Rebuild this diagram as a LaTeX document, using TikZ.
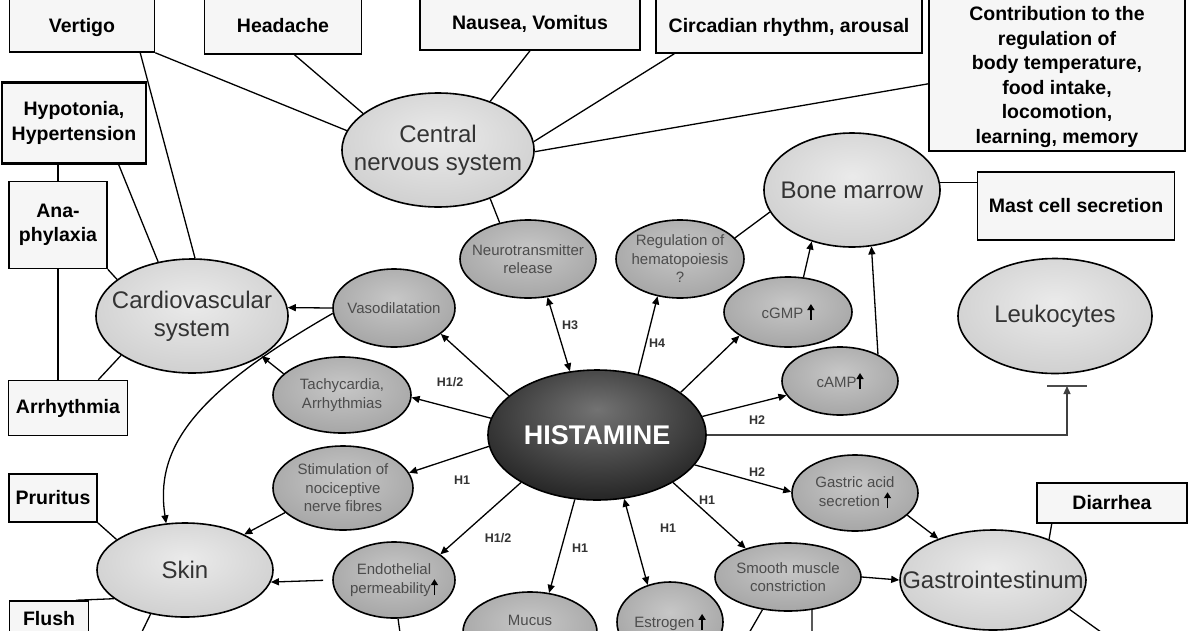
\documentclass[tikz,border=0pt]{standalone}
\usepackage{fontspec}
\setmainfont{Liberation Sans}
\usepackage{tikz}
\usetikzlibrary{arrows.meta,positioning,shapes.geometric}
\pgfdeclareradialshading{lightball}{\pgfpoint{0bp}{6bp}}{rgb(0bp)=(0.92,0.92,0.92);rgb(50bp)=(0.74,0.74,0.74);rgb(80bp)=(0.74,0.74,0.74)}
\pgfdeclareradialshading{midball}{\pgfpoint{0bp}{6bp}}{rgb(0bp)=(0.78,0.78,0.78);rgb(50bp)=(0.56,0.56,0.56);rgb(80bp)=(0.56,0.56,0.56)}
\pgfdeclareradialshading{darkball}{\pgfpoint{0bp}{10bp}}{rgb(0bp)=(0.45,0.45,0.45);rgb(42bp)=(0.04,0.04,0.04);rgb(80bp)=(0,0,0)}
\tikzset{
box/.style={draw,line width=1.5pt,fill=gray!7,align=center,inner sep=0pt,font=\bfseries\fontsize{19.5}{24.5}\selectfont},
topbox/.style={box,text height=45pt,text depth=5pt},
bigell/.style={ellipse,draw,line width=1.6pt,shade,shading=lightball,inner sep=0pt,align=center,text=black!80,font=\fontsize{24}{28}\selectfont},
midell/.style={ellipse,draw,line width=1.6pt,shade,shading=midball,inner sep=0pt,align=center,text=black!70,font=\fontsize{15}{18.5}\selectfont},
link/.style={line width=1.3pt},
arrow/.style={-{Triangle[length=8pt,width=7pt]},line width=1.3pt},
dblarrow/.style={{Triangle[length=8pt,width=7pt]}-{Triangle[length=8pt,width=7pt]},line width=1.3pt},
hlabel/.style={font=\bfseries\fontsize{12.5}{12.5}\selectfont,text=black!80}
}
\newcommand{\ml}[1]{\makebox[0pt]{#1}}
\newcommand{\upmark}{\tikz[baseline=-1pt,x=1pt,y=1pt]\draw[black,line width=1.8pt,-{Triangle[length=6pt,width=7pt]}] (0,-3)--(0,13);}

\begin{document}
\begin{tikzpicture}[x=1pt,y=-1pt]
\useasboundingbox (0,0) rectangle (1200,630);
\fill[white] (0,0) rectangle (1200,630);
\clip (0,0) rectangle (1200,630);

% symptom boxes
\node[topbox,minimum width=145pt,minimum height=80pt] (vertigo) at (82,12) {Vertigo};
\node[topbox,minimum width=157pt,minimum height=84pt] (headache) at (283,12) {Headache};
\node[topbox,minimum width=220pt,minimum height=82pt] (nausea) at (530,9) {Nausea, Vomitus};
\node[topbox,minimum width=266pt,minimum height=82pt] (circadian) at (789,12) {Circadian rhythm, arousal};
\node[box,minimum width=256pt,minimum height=166pt] (contrib) at (1057,68) {\rule{0pt}{32pt}Contribution to the\\regulation of\\body temperature,\\food intake,\\locomotion,\\learning, memory};
\node[box,line width=2.4pt,minimum width=144pt,minimum height=81pt] (hypotonia) at (74,123) {Hypotonia,\\Hypertension};
\node[box,minimum width=98pt,minimum height=87pt] (ana) at (58,225) {Ana-\\phylaxia};
\node[box,minimum width=119pt,minimum height=55pt] (arrhythmia) at (68,408) {Arrhythmia};
\node[box,minimum width=197pt,minimum height=68pt] (mastcell) at (1076,206) {Mast cell secretion};
\node[box,minimum width=88pt,minimum height=48pt] (pruritus) at (53,498) {Pruritus};
\node[box,minimum width=79pt,minimum height=36pt] (flush) at (49,619) {Flush};
\node[box,minimum width=150pt,minimum height=40pt] (diarrhea) at (1112,503) {Diarrhea};

% organs
\node[bigell,minimum width=192pt,minimum height=114pt] (cns) at (438,150) {\ml{Central}\\\ml{nervous system}};
\node[bigell,minimum width=176pt,minimum height=114pt] (bonemarrow) at (852,190) {\ml{Bone marrow}};
\node[bigell,minimum width=192pt,minimum height=114pt] (cardio) at (192,316) {\ml{Cardiovascular}\\\ml{system}};
\node[bigell,minimum width=194pt,minimum height=115pt] (leuko) at (1055,316) {\ml{Leukocytes}};
\node[bigell,minimum width=176pt,minimum height=94pt] (skin) at (185,570) {\ml{Skin}};
\node[bigell,minimum width=186pt,minimum height=100pt] (gi) at (993,580) {\ml{Gastrointestinum}};

% effects
\node[midell,minimum width=136pt,minimum height=78pt] (neuro) at (528,259) {\ml{Neurotransmitter}\\\ml{release}};
\node[midell,minimum width=128pt,minimum height=78pt] (regul) at (680,259) {\ml{Regulation of}\\\ml{hematopoiesis}\\\ml{?}};
\node[midell,minimum width=128pt,minimum height=70pt] (cgmp) at (788,312) {\ml{cGMP \upmark}};
\node[midell,minimum width=116pt,minimum height=68pt] (camp) at (840,381) {\ml{cAMP\upmark}};
\node[midell,minimum width=122pt,minimum height=78pt] (vasodil) at (394,308) {\ml{Vasodilatation}};
\node[midell,minimum width=138pt,minimum height=76pt] (tachy) at (342,395) {\ml{Tachycardia,}\\\ml{Arrhythmias}};
\node[midell,minimum width=140pt,minimum height=84pt] (stim) at (343,488) {\ml{Stimulation of}\\\ml{nociceptive}\\\ml{nerve fibres}};
\node[midell,minimum width=122pt,minimum height=76pt] (endoth) at (394,580) {\ml{Endothelial}\\\ml{permeability\upmark}};
\node[midell,minimum width=134pt,minimum height=80pt,label={[yshift=12pt,text=black!70,font=\fontsize{15}{18.5}\selectfont]center:Mucus}] (mucus) at (530,632) {};
\node[midell,minimum width=106pt,minimum height=80pt] (estrogen) at (670,622) {\ml{Estrogen \upmark}};
\node[midell,minimum width=146pt,minimum height=68pt] (smooth) at (788,577) {\ml{Smooth muscle}\\\ml{constriction}};
\node[midell,minimum width=126pt,minimum height=76pt] (gastric) at (855,493) {\ml{Gastric acid}\\\ml{secretion \upmark}};

\node[ellipse,draw,line width=1.6pt,shade,shading=darkball,inner sep=0pt,minimum width=218pt,minimum height=130pt,text=white,font=\bfseries\fontsize{27}{27}\selectfont] (histamine) at (597,435) {\ml{HISTAMINE}};

% receptor labels
\node[hlabel] (lh3) at (570,325) {H3};
\node[hlabel] (lh4) at (657,343) {H4};
\node[hlabel] (lh12a) at (450,382) {H1/2};
\node[hlabel] (lh2a) at (757,420) {H2};
\node[hlabel] (lh1a) at (462,480) {H1};
\node[hlabel] (lh12b) at (498,538) {H1/2};
\node[hlabel] (lh1b) at (580,548) {H1};
\node[hlabel] (lh1c) at (668,528) {H1};
\node[hlabel] (lh1d) at (707,500) {H1};
\node[hlabel] (lh2b) at (757,472) {H2};

\coordinate (leukobar) at (1067,386);
\coordinate (skinout) at (138,640);
\coordinate (endout) at (401,640);
\coordinate (smout1) at (745,640);
\coordinate (smout2) at (812,640);
\coordinate (giout) at (1112,640);

\draw[link] (vertigo.south east) -- (cns.168);
\draw[link] (vertigo.-35) -- (cardio.87);
\draw[link] (headache.-75) -- (cns.154);
\draw[link] (nausea.south) -- (cns.43);
\draw[link] (circadian.200) -- (cns.5);
\draw[link] (contrib.187) -- (cns.-1);
\draw[link] (hypotonia.-43) -- (cardio.122);
\draw[link] (hypotonia.south -| ana.north) -- (ana.north);
\draw[link] (ana.south east) -- (cardio.154);
\draw[link] (ana.south) -- (arrhythmia.north -| ana.south);
\draw[link] (arrhythmia.43) -- (cardio.209);
\draw[link] (bonemarrow.5) -- (mastcell.west |- bonemarrow.5);
\draw[link] (cns.317) -- (neuro.128);
\draw[link] (regul.21) -- (bonemarrow.195);
\draw[link] (pruritus.south east) -- (skin.156);
\draw[link] (skin.202) -- (flush.35);
\draw[link] (skin.232) -- (skinout);
\draw[link] (endoth.-84) -- (endout);
\draw[link] (smooth.232) -- (smout1);
\draw[link] (smooth.306) -- (smout2);
\draw[link] (gi.339) -- (giout);
\draw[link] (diarrhea.199) -- (gi.36);

\draw[arrow] (vasodil.west) -- (cardio.5);
\draw[arrow] (tachy.160) -- (cardio.330);
\draw[arrow] (vasodil.185) .. controls (190,395) and (155,450) .. (skin.112);
\draw[arrow] (stim.203) -- (skin.31);
\draw[arrow,shorten <=9pt] (endoth.west) -- (skin.352);
\draw[arrow] (histamine.156) -- (vasodil.331);
\draw[arrow] (histamine.171) -- (tachy.358);
\draw[arrow] (histamine.186) -- (stim.13);
\draw[arrow] (histamine.212) -- (endoth.29);
\draw[arrow] (histamine.251) -- (mucus.64);
\draw[dblarrow] (histamine.293) -- (estrogen.121);
\draw[arrow] (histamine.328) -- (smooth.146);
\draw[arrow] (histamine.343) -- (gastric.179);
\draw[arrow] (histamine.10) -- (camp.195);
\draw[arrow] (histamine.27) -- (cgmp.206);
\draw[arrow] (histamine.56) -- (regul.239);
\draw[dblarrow] (histamine.113) -- (neuro.297);
\draw[arrow] (gastric.337) -- (gi.143);
\draw[arrow] (smooth.east) -- (gi.west);
\draw[arrow] (cgmp.66) -- (bonemarrow.232);
\draw[arrow] (camp.35) -- (bonemarrow.289);
\draw[arrow,black!75] (histamine.east) -| (leukobar);
\draw[link,black!70] ([xshift=-20pt]leukobar) -- ([xshift=20pt]leukobar);
\end{tikzpicture}
\end{document}
